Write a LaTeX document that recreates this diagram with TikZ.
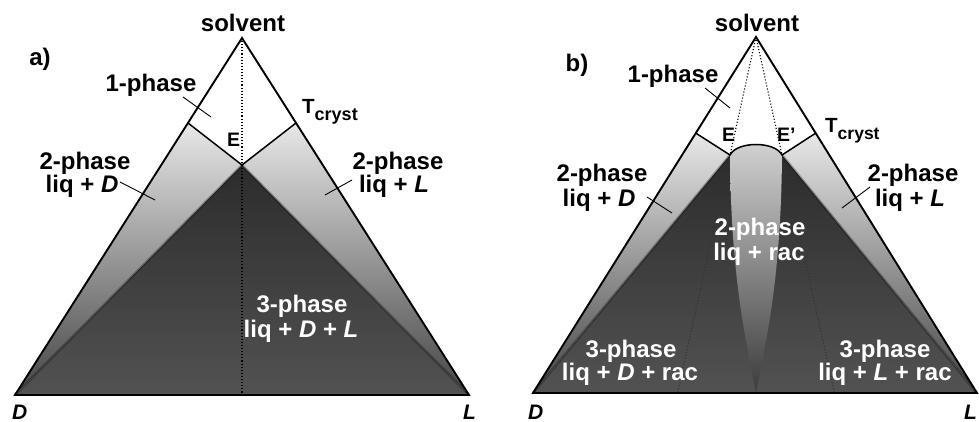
\documentclass[tikz,border=0pt]{standalone}
\usepackage{fontspec}
\setmainfont{Liberation Sans}
\usetikzlibrary{calc}
\definecolor{bandtop}{HTML}{E8E8E8}
\definecolor{bandmid}{HTML}{B6B6B6}
\definecolor{bandbot}{HTML}{454545}
\definecolor{darktop}{HTML}{2C2C2C}
\definecolor{darkbot}{HTML}{525252}
\definecolor{wedgetop}{HTML}{D2D2D2}
\definecolor{wedgemid}{HTML}{B0B0B0}
\definecolor{wedgebot}{HTML}{3C3C3C}
\begin{document}
\begin{tikzpicture}[x=1pt,y=-1pt,
  lab/.style={font=\fontsize{24}{26}\selectfont\bfseries, anchor=base, inner sep=0pt},
  wlab/.style={lab, text=white},
  elab/.style={font=\fontsize{19.5}{22}\selectfont\bfseries, anchor=base west, inner sep=0pt},
  vlab/.style={font=\fontsize{21}{22}\selectfont\bfseries\itshape, anchor=base west, inner sep=0pt},
  tlab/.style={font=\fontsize{20.5}{22}\selectfont\bfseries, anchor=base west, inner sep=0pt},
  edgeline/.style={line width=1.9pt, line join=miter},
  tline/.style={line width=1.5pt},
  leader/.style={line width=0.9pt},
  dots/.style={dotted, line width=1.1pt},
  band/.style={top color=bandtop, middle color=bandmid, bottom color=bandbot},
  darkreg/.style={top color=darktop, bottom color=darkbot},
  wedge/.style={top color=wedgetop, middle color=wedgemid, bottom color=wedgebot},
  shadow/.style={black, opacity=0.3, line width=2.5pt},
]
\useasboundingbox (0,0) rectangle (979,422);

% ---------------- panel a ----------------
\coordinate (aA) at (242,38);
\coordinate (aD) at (15,395);
\coordinate (aL) at (469,395);
\coordinate (aE) at (242,165);
\coordinate (aB) at (242,395);
\coordinate (aTl) at ($(aA)!0.238!(aD)$);
\coordinate (aTr) at ($(aA)!0.238!(aL)$);

\shade[band] (aTl) -- (aE) -- (aD) -- cycle;
\shade[band] (aTr) -- (aE) -- (aL) -- cycle;
\shade[darkreg] (aE) -- (aD) -- (aL) -- cycle;
\draw[shadow] (aD) -- (aE) -- (aL);
\draw[dots] (aA) -- (aB);
\draw[tline] (aTl) -- (aE) -- (aTr);
\draw[edgeline] (aA) -- (aD) -- (aL) -- cycle;

\node[lab] (asolv) at (243,32) {solvent};
\node[lab] (atag) at (40,66) {a)};
\node[lab] (a1ph) at (151,92) {1-phase};
\node[elab] (aElab) at (227,147) {E};
\node[tlab] (aT) at (302,114) {T\raisebox{-7pt}{\fontsize{18}{18}\selectfont cryst}};
\node[lab] (a2l1) at (85,170) {2-phase};
\node[lab] (a2l2) at (82,193) {liq + \textit{D}};
\node[lab] (a2r1) at (398,170) {2-phase};
\node[lab] (a2r2) at (394,193) {liq + \textit{L}};
\node[wlab] (a3a) at (302,312) {3-phase};
\node[wlab] (a3b) at (301,337) {liq + \textit{D} + \textit{L}};
\node[vlab] (aDl) at (12,419) {D};
\node[vlab] (aLl) at (463,419) {L};

\coordinate (al1s) at (183,97);  \coordinate (al1e) at (211,117);
\coordinate (al2s) at (120,182); \coordinate (al2e) at (155,200);
\coordinate (al3s) at (352,180); \coordinate (al3e) at (325,195);
\draw[leader] (al1s) -- (al1e);
\draw[leader] (al2s) -- (al2e);
\draw[leader] (al3s) -- (al3e);

% ---------------- panel b ----------------
\coordinate (bA) at (756,37);
\coordinate (bD) at (533,393);
\coordinate (bL) at (977,393);
\coordinate (bE) at (730,155);
\coordinate (bF) at (782,155);
\coordinate (bM) at (756,393);
\coordinate (bTl) at ($(bA)!0.27!(bD)$);
\coordinate (bTr) at ($(bA)!0.27!(bL)$);
\coordinate (bDl) at ($(bA)!3.017!(bE)$);
\coordinate (bDr) at ($(bA)!3.017!(bF)$);

\shade[band] (bTl) -- (bE) -- (bD) -- cycle;
\shade[band] (bTr) -- (bF) -- (bL) -- cycle;
\shade[darkreg] (bE) -- (bD) -- (bL) -- (bF) -- cycle;
\draw[shadow] (bD) -- (bE);
\draw[shadow] (bL) -- (bF);
\draw[dots, black!80] (bE) -- (bDl);
\draw[dots, black!80] (bF) -- (bDr);
\shade[wedge] (bE) .. controls (737,141) and (775,141) .. (bF)
   .. controls (781,280) and (766,340) .. (bM)
   .. controls (746,340) and (731,280) .. (bE) -- cycle;
\draw[dots] (bA) -- (bE);
\draw[dots] (bA) -- (bF);
\draw[tline] (bTl) -- (bE) .. controls (737,141) and (775,141) .. (bF) -- (bTr);
\draw[edgeline] (bA) -- (bD) -- (bL) -- cycle;

\node[lab] (bsolv) at (757,32) {solvent};
\node[lab] (btag) at (577,72) {b)};
\node[lab] (b1ph) at (673,83) {1-phase};
\node[elab] (bElab) at (722,142) {E};
\node[elab] (bFlab) at (777,142) {E'};
\node[tlab] (bT) at (825,133) {T\raisebox{-7pt}{\fontsize{17.5}{18}\selectfont cryst}};
\node[lab] (b2l1) at (602,182) {2-phase};
\node[lab] (b2l2) at (599,207) {liq + \textit{D}};
\node[lab] (b2r1) at (913,182) {2-phase};
\node[lab] (b2r2) at (910,207) {liq + \textit{L}};
\node[wlab] (b2c1) at (760,235) {2-phase};
\node[wlab] (b2c2) at (759,260) {liq + rac};
\node[wlab] (b3l1) at (631,357) {3-phase};
\node[wlab] (b3l2) at (630,380) {liq + \textit{D} + rac};
\node[wlab] (b3r1) at (885,357) {3-phase};
\node[wlab] (b3r2) at (885,380) {liq + \textit{L} + rac};
\node[vlab] (bDlab) at (528,419) {D};
\node[vlab] (bLlab) at (964,419) {L};

\coordinate (bl1s) at (705,88);  \coordinate (bl1e) at (730,108);
\coordinate (bl2s) at (647,197); \coordinate (bl2e) at (672,213);
\coordinate (bl3s) at (870,187); \coordinate (bl3e) at (842,208);
\draw[leader] (bl1s) -- (bl1e);
\draw[leader] (bl2s) -- (bl2e);
\draw[leader] (bl3s) -- (bl3e);
\end{tikzpicture}
\end{document}
